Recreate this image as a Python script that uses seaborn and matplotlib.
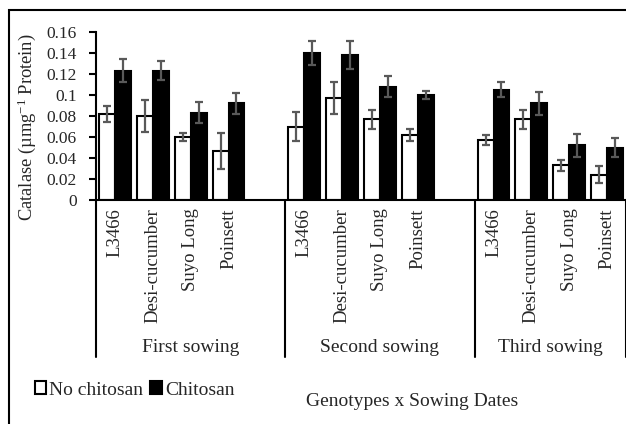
import matplotlib
matplotlib.use('Agg')
import matplotlib.pyplot as plt
import matplotlib.transforms as mtransforms
from matplotlib.patches import Patch, Rectangle
import seaborn as sns
import pandas as pd

# Dados
sowings = ['First sowing', 'Second sowing', 'Third sowing']
genotypes = ['L3466', 'Desi-cucumber', 'Suyo Long', 'Poinsett']
treatments = ['No chitosan', 'Chitosan']

no_chitosan = [0.082, 0.080, 0.060, 0.047,
               0.070, 0.097, 0.077, 0.062,
               0.057, 0.077, 0.033, 0.024]
no_chitosan_err = [0.008, 0.015, 0.004, 0.017,
                   0.014, 0.015, 0.009, 0.006,
                   0.005, 0.009, 0.005, 0.008]
chitosan = [0.123, 0.123, 0.083, 0.092,
            0.140, 0.138, 0.108, 0.100,
            0.105, 0.092, 0.052, 0.050]
chitosan_err = [0.011, 0.009, 0.010, 0.010,
                0.011, 0.013, 0.010, 0.004,
                0.007, 0.011, 0.011, 0.009]

y_ticks = [0, 0.02, 0.04, 0.06, 0.08, 0.1, 0.12, 0.14, 0.16]
y_tick_labels = ['0', '0.02', '0.04', '0.06', '0.08', '0.1', '0.12', '0.14', '0.16']

# Tabela longa
rows = []
for i, s in enumerate(sowings):
    for j, g in enumerate(genotypes):
        k = i * len(genotypes) + j
        rows.append({'slot': f'{s}|{g}', 'trat': treatments[0], 'valor': no_chitosan[k]})
        rows.append({'slot': f'{s}|{g}', 'trat': treatments[1], 'valor': chitosan[k]})
df = pd.DataFrame(rows)

# ordem com posições vazias entre os grupos (como no Excel)
order = []
labels = []
for i, s in enumerate(sowings):
    for g in genotypes:
        order.append(f'{s}|{g}')
        labels.append(g)
    if i < len(sowings) - 1:
        order.append(f'gap{i}')
        labels.append('')

sns.set_style('white')
plt.rcParams['font.family'] = ['Liberation Serif', 'DejaVu Serif']
plt.rcParams['mathtext.fontset'] = 'custom'
plt.rcParams['mathtext.rm'] = 'Liberation Serif'
plt.rcParams['mathtext.default'] = 'regular'

fig = plt.figure(figsize=(6.26, 4.24), dpi=100)
ax = fig.add_axes([96 / 626, 1 - 200 / 424, 530 / 626, 168 / 424])

sns.barplot(data=df, x='slot', y='valor', hue='trat', order=order, hue_order=treatments,
            palette={'No chitosan': 'white', 'Chitosan': 'black'},
            edgecolor='black', linewidth=1.5, width=0.84, errorbar=None,
            legend=False, ax=ax)

# barras de erro
off = 0.21
for k, key in enumerate([o for o in order if not o.startswith('gap')]):
    xi = order.index(key)
    ax.errorbar(xi - off, no_chitosan[k], yerr=no_chitosan_err[k], fmt='none',
                ecolor='#595959', elinewidth=1.6, capsize=3.2, capthick=1.6, zorder=5)
    ax.errorbar(xi + off, chitosan[k], yerr=chitosan_err[k], fmt='none',
                ecolor='#595959', elinewidth=1.6, capsize=3.2, capthick=1.6, zorder=5)

ax.set_xlim(-0.5, len(order) - 0.5)
ax.set_ylim(0, 0.16)
ax.set_yticks(y_ticks)
ax.set_yticklabels(y_tick_labels, fontsize=12.5)
ax.set_xticks(range(len(order)))
ax.set_xticklabels(labels, rotation=90, fontsize=13.5, va='top')
ax.tick_params(axis='x', length=0, pad=6)
ax.tick_params(axis='y', direction='out', length=5, width=1.5, color='black', pad=9, left=True)
ax.set_xlabel('')
ax.set_ylabel('')
for sp in ['top', 'right']:
    ax.spines[sp].set_visible(False)
for sp in ['left', 'bottom']:
    ax.spines[sp].set_color('black')
    ax.spines[sp].set_linewidth(1.5)

# separadores e rótulos dos grupos
trans = mtransforms.blended_transform_factory(ax.transData, ax.transAxes)
bounds = [-0.5, 4.5, 9.5, 13.5]
for b in bounds:
    ax.plot([b, b], [0, -157 / 168], color='black', lw=1.5, transform=trans, clip_on=False)
for i, s in enumerate(sowings):
    ax.text((bounds[i] + bounds[i + 1]) / 2, -147 / 168, s, transform=trans,
            ha='center', va='center', fontsize=14)

fig.text(27 / 626, 1 - 127 / 424, r'Catalase (µmg$^{-1}$ Protein)', rotation=90,
         ha='center', va='center', fontsize=13.3)

# legenda
handles = [Patch(facecolor='white', edgecolor='black', linewidth=1.5),
           Patch(facecolor='black', edgecolor='black', linewidth=1.5)]
fig.legend(handles, treatments, loc='center left', bbox_to_anchor=(27 / 626, 1 - 390 / 424),
           ncol=2, frameon=False, fontsize=14, handlelength=0.6, handleheight=0.6,
           handletextpad=0.15, columnspacing=0.35, borderaxespad=0)

fig.text(412 / 626, 1 - 401 / 424, 'Genotypes x Sowing Dates', ha='center', va='center',
         fontsize=14)

# moldura da área do gráfico
fig.patches.append(Rectangle((9 / 626, -0.1), 1.2, 1 - 10 / 424 + 0.1, transform=fig.transFigure,
                             fill=False, edgecolor='black', linewidth=1.5))

fig.savefig('out.png', dpi=100)
